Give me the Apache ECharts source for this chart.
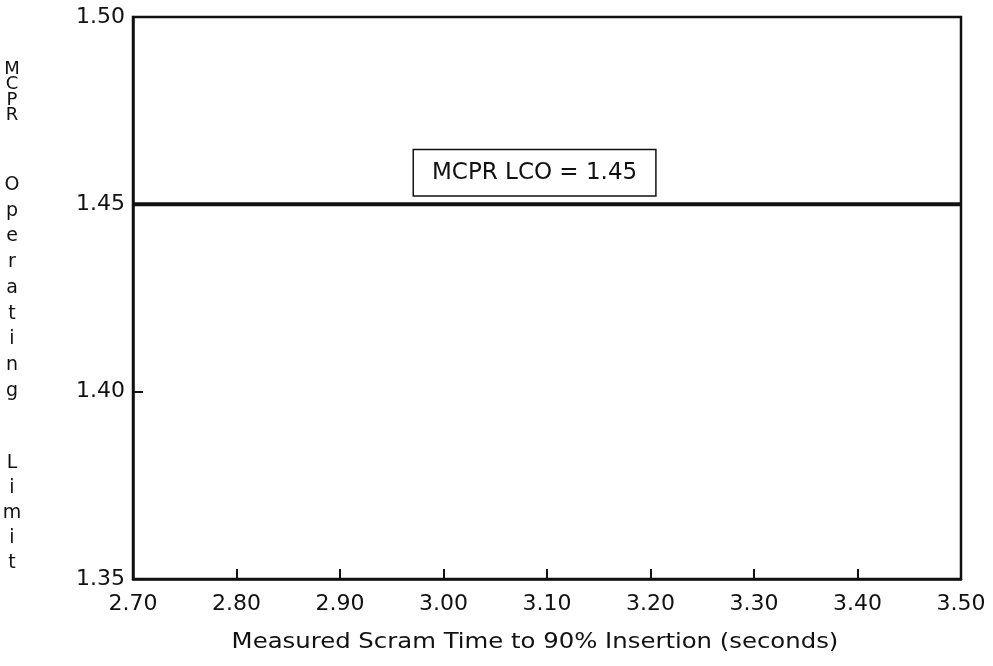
<!DOCTYPE html>
<html>
<head>
<meta charset="utf-8">
<script src="https://cdn.jsdelivr.net/npm/echarts@6/dist/echarts.min.js"></script>
<style>
  html, body { margin: 0; padding: 0; background: #fff; }
  #chart { width: 993px; height: 666px; }
</style>
</head>
<body>
<div id="chart"></div>
<script>
// Axis ranges and tick values
const xTicks = [2.70, 2.80, 2.90, 3.00, 3.10, 3.20, 3.30, 3.40, 3.50];
const yTicks = [1.35, 1.40, 1.45, 1.50];

// MCPR limiting condition for operation (flat across scram times)
const lcoScramTimes = [2.70, 3.50];
const lcoValues = [1.45, 1.45];

// Annotation text and where it sits in data space
const lcoLabel = 'MCPR LCO = 1.45';
const lcoLabelAt = [3.088, 1.4584];

const xTitle = 'Measured Scram Time to 90% Insertion (seconds)';
const yTitleWords = ['MCPR', 'Operating', 'Limit'];

const FONT = '"DejaVu Sans", sans-serif';
const INK = '#111';

const GRID = { left: 133, right: 32, top: 17, bottom: 87 };

// Vertical y-axis title: one character per row, capitals packed tighter
function stackedTitle() {
  const rows = [];
  const pitch = [15.5, 25.75, 25];      // row spacing per word
  const firstRow = [69, 185, 463];      // centre of first row of each word
  const size = [18, 19, 19];
  yTitleWords.forEach((word, w) => {
    word.split('').forEach((ch, i) => {
      rows.push({
        type: 'text',
        x: 12,
        y: firstRow[w] + i * pitch[w],
        style: {
          text: ch, fill: INK, font: size[w] + 'px ' + FONT,
          textAlign: 'center', textVerticalAlign: 'middle'
        },
        silent: true
      });
    });
  });
  return rows;
}

const chart = echarts.init(document.getElementById('chart'), null, { renderer: 'canvas' });

chart.setOption({
  animation: false,
  backgroundColor: '#fff',
  grid: Object.assign({
    containLabel: false,
    outerBoundsMode: 'none',
    show: true, borderColor: INK, borderWidth: 2.5, backgroundColor: 'transparent'
  }, GRID),
  xAxis: {
    type: 'value',
    min: xTicks[0], max: xTicks[xTicks.length - 1], interval: 0.1,
    axisLine: { show: true, lineStyle: { color: INK, width: 2.5 } },
    axisTick: { show: true, inside: true, length: 10, lineStyle: { color: INK, width: 2 } },
    axisLabel: {
      fontFamily: FONT, fontSize: 22, color: INK, margin: 14,
      showMinLabel: true, showMaxLabel: true,
      formatter: v => v.toFixed(2)
    },
    splitLine: { show: false }
  },
  yAxis: {
    type: 'value',
    min: yTicks[0], max: yTicks[yTicks.length - 1], interval: 0.05,
    axisLine: { show: true, lineStyle: { color: INK, width: 2.5 } },
    axisTick: { show: true, inside: true, length: 10, lineStyle: { color: INK, width: 2 } },
    axisLabel: {
      fontFamily: FONT, fontSize: 22, color: INK, margin: 8,
      showMinLabel: true, showMaxLabel: true,
      formatter: v => v.toFixed(2)
    },
    splitLine: { show: false }
  },
  graphic: [
    {
      type: 'text',
      x: 535, y: 643,
      scaleX: 1.16,
      style: {
        text: xTitle, fill: INK, font: '21px ' + FONT,
        textAlign: 'center', textVerticalAlign: 'middle'
      },
      silent: true
    }
  ].concat(stackedTitle()),
  series: [{
    type: 'line',
    data: lcoScramTimes.map((x, i) => [x, lcoValues[i]]),
    symbol: 'none',
    lineStyle: { color: INK, width: 4 },
    silent: true,
    markPoint: {
      silent: true,
      symbol: 'rect',
      symbolSize: 0,
      data: [{
        coord: lcoLabelAt,
        label: {
          show: true,
          position: 'inside',
          formatter: lcoLabel,
          fontFamily: FONT, fontSize: 23, color: INK,
          backgroundColor: '#fff',
          borderColor: INK, borderWidth: 1.5,
          padding: [11, 18, 11, 18]
        }
      }]
    }
  }]
});
</script>
</body>
</html>
